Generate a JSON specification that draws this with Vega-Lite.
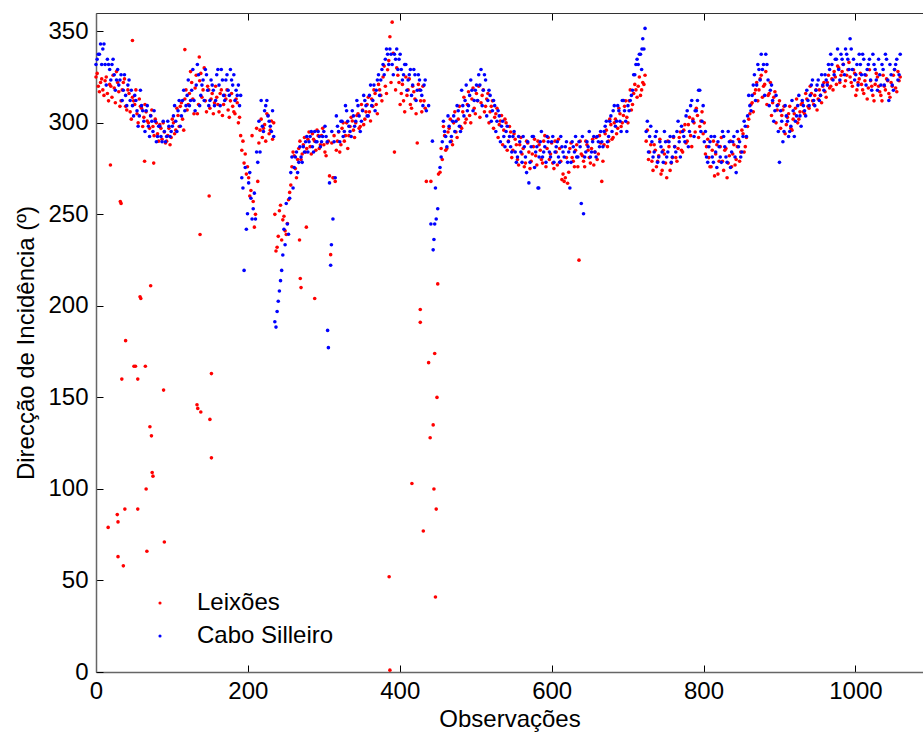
{
"$schema": "https://vega.github.io/schema/vega-lite/v6.json",
"width": 827, "height": 659,
"autosize": "none",
"padding": {"left": 96, "top": 13, "right": 0, "bottom": 61},
"background": "white",
"config": {"view": {"stroke": null}, "font": "Liberation Sans"},
"datasets": {"d": [
{"o":0,"L":325,"C":331.9},{"o":3,"L":320,"C":337.5},{"o":6,"L":322,"C":343.1},{"o":9,"L":318,"C":340.3},{"o":12,"L":323,"C":331.9},{"o":15,"L":316,"C":334.7},{"o":18,"L":321,"C":329.1},{"o":21,"L":314,"C":331.9},{"o":24,"L":319,"C":326.3},{"o":27,"L":328,"C":323.4},{"o":30,"L":317,"C":320.6},{"o":33,"L":312,"C":326.3},{"o":36,"L":322,"C":317.8},{"o":39,"L":309,"C":315},{"o":42,"L":318,"C":320.6},{"o":45,"L":306,"C":312.2},{"o":48,"L":314,"C":309.4},{"o":51,"L":310,"C":315},{"o":54,"L":305,"C":306.6},{"o":57,"L":313,"C":303.8},{"o":60,"L":308,"C":309.4},{"o":63,"L":303,"C":300.9},{"o":66,"L":306,"C":306.6},{"o":69,"L":300,"C":298.1},{"o":72,"L":304,"C":303.8},{"o":75,"L":298,"C":295.3},{"o":78,"L":302,"C":300.9},{"o":81,"L":294,"C":292.5},{"o":84,"L":299,"C":298.1},{"o":87,"L":291,"C":289.7},{"o":90,"L":295,"C":295.3},{"o":93,"L":290,"C":292.5},{"o":96,"L":297,"C":298.1},{"o":99,"L":292,"C":295.3},{"o":102,"L":300,"C":303.8},{"o":105,"L":296,"C":300.9},{"o":108,"L":304,"C":306.6},{"o":111,"L":309,"C":298.1},{"o":114,"L":302,"C":312.2},{"o":117,"L":313,"C":306.6},{"o":120,"L":307,"C":315},{"o":123,"L":316,"C":309.4},{"o":126,"L":322,"C":317.8},{"o":129,"L":305,"C":312.2},{"o":132,"L":326,"C":320.6},{"o":135,"L":310,"C":326.3},{"o":138,"L":327,"C":315},{"o":141,"L":318,"C":323.4},{"o":144,"L":312,"C":329.1},{"o":147,"L":320,"C":317.8},{"o":150,"L":308,"C":312.2},{"o":153,"L":316,"C":320.6},{"o":156,"L":311,"C":309.4},{"o":159,"L":314,"C":326.3},{"o":162,"L":306,"C":320.6},{"o":165,"L":318,"C":329.1},{"o":168,"L":310,"C":315},{"o":171,"L":313,"C":323.4},{"o":174,"L":307,"C":317.8},{"o":177,"L":312,"C":329.1},{"o":180,"L":309,"C":320.6},{"o":183,"L":305,"C":312.2},{"o":186,"L":311,"C":315},{"o":189,"L":303,"C":309.4},{"o":192,"L":285,"C":270},{"o":195,"L":278,"C":219.4},{"o":198,"L":272,"C":241.9},{"o":201,"L":270,"C":267.2},{"o":204,"L":263,"C":258.8},{"o":207,"L":257,"C":253.1},{"o":210,"L":250,"C":247.5},{"o":213,"L":268,"C":278.4},{"o":216,"L":296,"C":284.1},{"o":219,"L":292,"C":298.1},{"o":222,"L":299,"C":306.6},{"o":225,"L":305,"C":312.2},{"o":228,"L":294,"C":300.9},{"o":231,"L":301,"C":295.3},{"o":234,"L":300,"C":292.5},{"o":237,"L":230,"C":188.4},{"o":240,"L":238,"C":202.5},{"o":243,"L":255,"C":213.8},{"o":246,"L":247,"C":227.8},{"o":249,"L":241,"C":233.4},{"o":252,"L":245,"C":244.7},{"o":255,"L":262,"C":258.8},{"o":258,"L":276,"C":281.3},{"o":261,"L":282,"C":275.6},{"o":264,"L":270,"C":284.1},{"o":267,"L":286,"C":278.4},{"o":270,"L":280,"C":281.3},{"o":273,"L":288,"C":286.9},{"o":276,"L":284,"C":289.7},{"o":279,"L":291,"C":284.1},{"o":282,"L":287,"C":292.5},{"o":285,"L":294,"C":286.9},{"o":288,"L":290,"C":295.3},{"o":291,"L":296,"C":289.7},{"o":294,"L":286,"C":292.5},{"o":297,"L":293,"C":289.7},{"o":300,"L":288,"C":295.3},{"o":303,"L":282,"C":292.5},{"o":306,"L":290,"C":177.2},{"o":309,"L":228,"C":222.2},{"o":312,"L":270,"C":247.5},{"o":315,"L":268,"C":270},{"o":318,"L":290,"C":298.1},{"o":321,"L":284,"C":289.7},{"o":324,"L":297,"C":300.9},{"o":327,"L":290,"C":295.3},{"o":330,"L":300,"C":306.6},{"o":333,"L":293,"C":298.1},{"o":336,"L":303,"C":292.5},{"o":339,"L":296,"C":303.8},{"o":342,"L":300,"C":300.9},{"o":345,"L":305,"C":309.4},{"o":348,"L":298,"C":295.3},{"o":351,"L":307,"C":306.6},{"o":354,"L":302,"C":312.2},{"o":357,"L":310,"C":303.8},{"o":360,"L":306,"C":315},{"o":363,"L":313,"C":309.4},{"o":366,"L":318,"C":320.6},{"o":369,"L":310,"C":317.8},{"o":372,"L":321,"C":326.3},{"o":375,"L":315,"C":323.4},{"o":378,"L":325,"C":331.9},{"o":381,"L":320,"C":334.7},{"o":384,"L":329,"C":337.5},{"o":387,"L":347,"C":340.3},{"o":390,"L":355,"C":331.9},{"o":393,"L":284,"C":337.5},{"o":396,"L":330,"C":340.3},{"o":399,"L":322,"C":334.7},{"o":402,"L":316,"C":329.1},{"o":405,"L":312,"C":326.3},{"o":408,"L":325,"C":331.9},{"o":411,"L":318,"C":323.4},{"o":414,"L":310,"C":329.1},{"o":417,"L":320,"C":320.6},{"o":420,"L":313,"C":326.3},{"o":423,"L":289,"C":317.8},{"o":426,"L":318,"C":323.4},{"o":429,"L":306,"C":315},{"o":432,"L":312,"C":320.6},{"o":435,"L":268,"C":306.6},{"o":438,"L":169,"C":309.4},{"o":441,"L":268,"C":244.7},{"o":444,"L":135,"C":230.6},{"o":447,"L":41,"C":264.4},{"o":450,"L":212,"C":253.1},{"o":453,"L":273,"C":275.6},{"o":456,"L":280,"C":289.7},{"o":459,"L":293,"C":295.3},{"o":462,"L":286,"C":286.9},{"o":465,"L":297,"C":298.1},{"o":468,"L":290,"C":292.5},{"o":471,"L":300,"C":303.8},{"o":474,"L":295,"C":300.9},{"o":477,"L":302,"C":306.6},{"o":480,"L":298,"C":295.3},{"o":483,"L":306,"C":309.4},{"o":486,"L":300,"C":312.2},{"o":489,"L":310,"C":306.6},{"o":492,"L":304,"C":315},{"o":495,"L":313,"C":317.8},{"o":498,"L":308,"C":312.2},{"o":501,"L":316,"C":320.6},{"o":504,"L":320,"C":326.3},{"o":507,"L":311,"C":329.1},{"o":510,"L":318,"C":317.8},{"o":513,"L":309,"C":323.4},{"o":516,"L":316,"C":312.2},{"o":519,"L":306,"C":315},{"o":522,"L":312,"C":306.6},{"o":525,"L":303,"C":309.4},{"o":528,"L":308,"C":300.9},{"o":531,"L":299,"C":303.8},{"o":534,"L":304,"C":298.1},{"o":537,"L":296,"C":292.5},{"o":540,"L":300,"C":295.3},{"o":543,"L":290,"C":289.7},{"o":546,"L":295,"C":286.9},{"o":549,"L":285,"C":292.5},{"o":552,"L":291,"C":284.1},{"o":555,"L":280,"C":281.3},{"o":558,"L":288,"C":289.7},{"o":561,"L":283,"C":278.4},{"o":564,"L":276,"C":286.9},{"o":567,"L":290,"C":272.8},{"o":570,"L":284,"C":267.2},{"o":573,"L":279,"C":286.9},{"o":576,"L":287,"C":292.5},{"o":579,"L":282,"C":284.1},{"o":582,"L":290,"C":264.4},{"o":585,"L":285,"C":289.7},{"o":588,"L":278,"C":281.3},{"o":591,"L":293,"C":286.9},{"o":594,"L":286,"C":292.5},{"o":597,"L":280,"C":284.1},{"o":600,"L":289,"C":289.7},{"o":603,"L":275,"C":278.4},{"o":606,"L":284,"C":286.9},{"o":609,"L":291,"C":281.3},{"o":612,"L":279,"C":292.5},{"o":615,"L":272,"C":284.1},{"o":618,"L":270,"C":286.9},{"o":621,"L":267,"C":278.4},{"o":624,"L":286,"C":264.4},{"o":627,"L":281,"C":289.7},{"o":630,"L":276,"C":284.1},{"o":633,"L":288,"C":281.3},{"o":636,"L":225,"C":289.7},{"o":639,"L":283,"C":255.9},{"o":642,"L":279,"C":250.3},{"o":645,"L":290,"C":284.1},{"o":648,"L":285,"C":286.9},{"o":651,"L":278,"C":281.3},{"o":654,"L":291,"C":289.7},{"o":657,"L":284,"C":284.1},{"o":660,"L":280,"C":292.5},{"o":663,"L":293,"C":286.9},{"o":666,"L":268,"C":289.7},{"o":669,"L":288,"C":295.3},{"o":672,"L":296,"C":300.9},{"o":675,"L":290,"C":292.5},{"o":678,"L":299,"C":303.8},{"o":681,"L":292,"C":306.6},{"o":684,"L":302,"C":298.1},{"o":687,"L":297,"C":309.4},{"o":690,"L":305,"C":300.9},{"o":693,"L":300,"C":312.2},{"o":696,"L":309,"C":306.6},{"o":699,"L":303,"C":295.3},{"o":702,"L":312,"C":306.6},{"o":705,"L":307,"C":315},{"o":708,"L":316,"C":326.3},{"o":711,"L":318,"C":331.9},{"o":714,"L":320,"C":331.9},{"o":717,"L":315,"C":337.5},{"o":720,"L":322,"C":345.9},{"o":723,"L":326,"C":351.6},{"o":726,"L":296,"C":300.9},{"o":729,"L":284,"C":292.5},{"o":732,"L":279,"C":289.7},{"o":735,"L":288,"C":284.1},{"o":738,"L":276,"C":295.3},{"o":741,"L":282,"C":281.3},{"o":744,"L":272,"C":286.9},{"o":747,"L":285,"C":278.4},{"o":750,"L":278,"C":289.7},{"o":753,"L":290,"C":284.1},{"o":756,"L":274,"C":292.5},{"o":759,"L":281,"C":281.3},{"o":762,"L":287,"C":286.9},{"o":765,"L":279,"C":295.3},{"o":768,"L":292,"C":289.7},{"o":771,"L":285,"C":298.1},{"o":774,"L":296,"C":292.5},{"o":777,"L":289,"C":303.8},{"o":780,"L":299,"C":286.9},{"o":783,"L":293,"C":309.4},{"o":786,"L":302,"C":300.9},{"o":789,"L":295,"C":306.6},{"o":792,"L":304,"C":312.2},{"o":795,"L":298,"C":317.8},{"o":798,"L":306,"C":300.9},{"o":801,"L":300,"C":289.7},{"o":804,"L":287,"C":281.3},{"o":807,"L":281,"C":286.9},{"o":810,"L":276,"C":292.5},{"o":813,"L":290,"C":278.4},{"o":816,"L":283,"C":284.1},{"o":819,"L":272,"C":289.7},{"o":822,"L":287,"C":281.3},{"o":825,"L":279,"C":295.3},{"o":828,"L":285,"C":286.9},{"o":831,"L":270,"C":278.4},{"o":834,"L":282,"C":289.7},{"o":837,"L":276,"C":284.1},{"o":840,"L":288,"C":292.5},{"o":843,"L":280,"C":272.8},{"o":846,"L":291,"C":286.9},{"o":849,"L":284,"C":281.3},{"o":852,"L":294,"C":292.5},{"o":855,"L":287,"C":298.1},{"o":858,"L":298,"C":303.8},{"o":861,"L":305,"C":309.4},{"o":864,"L":311,"C":315},{"o":867,"L":316,"C":326.3},{"o":870,"L":322,"C":320.6},{"o":873,"L":318,"C":329.1},{"o":876,"L":326,"C":337.5},{"o":879,"L":320,"C":331.9},{"o":882,"L":328,"C":337.5},{"o":885,"L":315,"C":323.4},{"o":888,"L":322,"C":317.8},{"o":891,"L":311,"C":312.2},{"o":894,"L":317,"C":306.6},{"o":897,"L":307,"C":309.4},{"o":900,"L":312,"C":278.4},{"o":903,"L":304,"C":300.9},{"o":906,"L":309,"C":295.3},{"o":909,"L":299,"C":303.8},{"o":912,"L":305,"C":292.5},{"o":915,"L":297,"C":298.1},{"o":918,"L":302,"C":306.6},{"o":921,"L":308,"C":300.9},{"o":924,"L":300,"C":309.4},{"o":927,"L":306,"C":303.8},{"o":930,"L":311,"C":312.2},{"o":933,"L":305,"C":306.6},{"o":936,"L":313,"C":317.8},{"o":939,"L":308,"C":309.4},{"o":942,"L":316,"C":320.6},{"o":945,"L":310,"C":312.2},{"o":948,"L":318,"C":317.8},{"o":951,"L":313,"C":323.4},{"o":954,"L":315,"C":315},{"o":957,"L":320,"C":320.6},{"o":960,"L":317,"C":326.3},{"o":963,"L":322,"C":320.6},{"o":966,"L":319,"C":329.1},{"o":969,"L":324,"C":331.9},{"o":972,"L":328,"C":326.3},{"o":975,"L":321,"C":334.7},{"o":978,"L":330,"C":329.1},{"o":981,"L":326,"C":337.5},{"o":984,"L":332,"C":331.9},{"o":987,"L":323,"C":340.3},{"o":990,"L":329,"C":334.7},{"o":993,"L":325,"C":345.9},{"o":996,"L":320,"C":329.1},{"o":999,"L":327,"C":323.4},{"o":1002,"L":318,"C":331.9},{"o":1005,"L":324,"C":337.5},{"o":1008,"L":321,"C":326.3},{"o":1011,"L":316,"C":334.7},{"o":1014,"L":326,"C":320.6},{"o":1017,"L":319,"C":331.9},{"o":1020,"L":323,"C":323.4},{"o":1023,"L":315,"C":337.5},{"o":1026,"L":321,"C":329.1},{"o":1029,"L":325,"C":317.8},{"o":1032,"L":317,"C":326.3},{"o":1035,"L":312,"C":331.9},{"o":1038,"L":320,"C":320.6},{"o":1041,"L":324,"C":334.7},{"o":1044,"L":316,"C":312.2},{"o":1047,"L":322,"C":326.3},{"o":1050,"L":326,"C":317.8},{"o":1053,"L":319,"C":331.9},{"o":1056,"L":328,"C":323.4},{"o":1059,"L":325,"C":337.5},
{"o":1.5,"L":327,"C":334.7},{"o":4.5,"L":317,"C":337.5},{"o":7.5,"L":324,"C":331.9},{"o":10.5,"L":315,"C":343.1},{"o":13.5,"L":325,"C":320.6},{"o":16.5,"L":312,"C":331.9},{"o":19.5,"L":320,"C":323.4},{"o":22.5,"L":326,"C":334.7},{"o":25.5,"L":311,"C":317.8},{"o":28.5,"L":322,"C":329.1},{"o":31.5,"L":309,"C":323.4},{"o":34.5,"L":318,"C":312.2},{"o":37.5,"L":324,"C":326.3},{"o":40.5,"L":307,"C":309.4},{"o":43.5,"L":316,"C":323.4},{"o":46.5,"L":302,"C":317.8},{"o":49.5,"L":312,"C":303.8},{"o":52.5,"L":318,"C":312.2},{"o":55.5,"L":300,"C":298.1},{"o":58.5,"L":309,"C":317.8},{"o":61.5,"L":298,"C":306.6},{"o":64.5,"L":310,"C":295.3},{"o":67.5,"L":301,"C":309.4},{"o":70.5,"L":297,"C":292.5},{"o":73.5,"L":307,"C":300.9},{"o":76.5,"L":293,"C":306.6},{"o":79.5,"L":300,"C":289.7},{"o":82.5,"L":290,"C":298.1},{"o":85.5,"L":297,"C":292.5},{"o":88.5,"L":300,"C":300.9},{"o":91.5,"L":289,"C":289.7},{"o":94.5,"L":293,"C":300.9},{"o":97.5,"L":288,"C":292.5},{"o":100.5,"L":302,"C":298.1},{"o":103.5,"L":294,"C":309.4},{"o":106.5,"L":308,"C":295.3},{"o":109.5,"L":298,"C":312.2},{"o":112.5,"L":311,"C":303.8},{"o":115.5,"L":296,"C":317.8},{"o":118.5,"L":318,"C":309.4},{"o":121.5,"L":310,"C":323.4},{"o":124.5,"L":328,"C":312.2},{"o":127.5,"L":313,"C":329.1},{"o":130.5,"L":319,"C":306.6},{"o":133.5,"L":305,"C":331.9},{"o":136.5,"L":323,"C":309.4},{"o":139.5,"L":314,"C":320.6},{"o":142.5,"L":330,"C":312.2},{"o":145.5,"L":306,"C":326.3},{"o":148.5,"L":318,"C":309.4},{"o":151.5,"L":313,"C":323.4},{"o":154.5,"L":305,"C":317.8},{"o":157.5,"L":320,"C":312.2},{"o":160.5,"L":310,"C":329.1},{"o":163.5,"L":316,"C":309.4},{"o":166.5,"L":304,"C":323.4},{"o":169.5,"L":315,"C":312.2},{"o":172.5,"L":318,"C":326.3},{"o":175.5,"L":303,"C":315},{"o":178.5,"L":316,"C":323.4},{"o":181.5,"L":306,"C":326.3},{"o":184.5,"L":313,"C":317.8},{"o":187.5,"L":300,"C":320.6},{"o":190.5,"L":293,"C":315},{"o":193.5,"L":290,"C":264.4},{"o":196.5,"L":283,"C":275.6},{"o":199.5,"L":276,"C":250.3},{"o":202.5,"L":260,"C":272.8},{"o":205.5,"L":293,"C":247.5},{"o":208.5,"L":243,"C":261.6},{"o":211.5,"L":297,"C":284.1},{"o":214.5,"L":289,"C":300.9},{"o":217.5,"L":302,"C":312.2},{"o":220.5,"L":297,"C":295.3},{"o":223.5,"L":290,"C":309.4},{"o":226.5,"L":304,"C":303.8},{"o":229.5,"L":296,"C":298.1},{"o":232.5,"L":291,"C":306.6},{"o":235.5,"L":250,"C":191.3},{"o":238.5,"L":232,"C":196.9},{"o":241.5,"L":252,"C":208.1},{"o":244.5,"L":236,"C":219.4},{"o":247.5,"L":249,"C":241.9},{"o":250.5,"L":239,"C":255.9},{"o":253.5,"L":258,"C":239.1},{"o":256.5,"L":266,"C":272.8},{"o":259.5,"L":284,"C":264.4},{"o":262.5,"L":275,"C":281.3},{"o":265.5,"L":280,"C":272.8},{"o":268.5,"L":290,"C":286.9},{"o":271.5,"L":283,"C":278.4},{"o":274.5,"L":292,"C":284.1},{"o":277.5,"L":286,"C":292.5},{"o":280.5,"L":295,"C":289.7},{"o":283.5,"L":283,"C":295.3},{"o":286.5,"L":291,"C":284.1},{"o":289.5,"L":285,"C":289.7},{"o":292.5,"L":293,"C":295.3},{"o":295.5,"L":288,"C":286.9},{"o":298.5,"L":297,"C":292.5},{"o":301.5,"L":284,"C":298.1},{"o":304.5,"L":289,"C":289.7},{"o":307.5,"L":271,"C":267.2},{"o":310.5,"L":289,"C":295.3},{"o":313.5,"L":293,"C":289.7},{"o":316.5,"L":285,"C":303.8},{"o":319.5,"L":295,"C":295.3},{"o":322.5,"L":288,"C":300.9},{"o":325.5,"L":300,"C":292.5},{"o":328.5,"L":293,"C":309.4},{"o":331.5,"L":286,"C":300.9},{"o":334.5,"L":298,"C":295.3},{"o":337.5,"L":301,"C":306.6},{"o":340.5,"L":292,"C":298.1},{"o":343.5,"L":304,"C":312.2},{"o":346.5,"L":297,"C":303.8},{"o":349.5,"L":310,"C":300.9},{"o":352.5,"L":299,"C":315},{"o":355.5,"L":306,"C":309.4},{"o":358.5,"L":314,"C":303.8},{"o":361.5,"L":301,"C":320.6},{"o":364.5,"L":309,"C":312.2},{"o":367.5,"L":316,"C":306.6},{"o":370.5,"L":305,"C":323.4},{"o":373.5,"L":318,"C":315},{"o":376.5,"L":312,"C":329.1},{"o":379.5,"L":331,"C":326.3},{"o":382.5,"L":316,"C":340.3},{"o":385.5,"L":334,"C":331.9},{"o":388.5,"L":322,"C":337.5},{"o":391.5,"L":338,"C":326.3},{"o":394.5,"L":318,"C":334.7},{"o":397.5,"L":326,"C":329.1},{"o":400.5,"L":310,"C":337.5},{"o":403.5,"L":321,"C":323.4},{"o":406.5,"L":306,"C":331.9},{"o":409.5,"L":315,"C":317.8},{"o":412.5,"L":324,"C":326.3},{"o":415.5,"L":308,"C":315},{"o":418.5,"L":317,"C":329.1},{"o":421.5,"L":305,"C":312.2},{"o":424.5,"L":321,"C":326.3},{"o":427.5,"L":312,"C":317.8},{"o":430.5,"L":320,"C":309.4},{"o":433.5,"L":308,"C":323.4},{"o":454.5,"L":286,"C":281.3},{"o":457.5,"L":298,"C":300.9},{"o":460.5,"L":285,"C":292.5},{"o":463.5,"L":295,"C":303.8},{"o":466.5,"L":302,"C":289.7},{"o":469.5,"L":288,"C":300.9},{"o":472.5,"L":306,"C":295.3},{"o":475.5,"L":292,"C":309.4},{"o":478.5,"L":309,"C":298.1},{"o":481.5,"L":297,"C":317.8},{"o":484.5,"L":314,"C":303.8},{"o":487.5,"L":302,"C":320.6},{"o":490.5,"L":317,"C":309.4},{"o":493.5,"L":300,"C":323.4},{"o":496.5,"L":319,"C":306.6},{"o":499.5,"L":305,"C":317.8},{"o":502.5,"L":312,"C":312.2},{"o":505.5,"L":303,"C":320.6},{"o":508.5,"L":315,"C":309.4},{"o":511.5,"L":306,"C":326.3},{"o":514.5,"L":313,"C":303.8},{"o":517.5,"L":300,"C":317.8},{"o":520.5,"L":309,"C":300.9},{"o":523.5,"L":297,"C":312.2},{"o":526.5,"L":305,"C":295.3},{"o":529.5,"L":292,"C":306.6},{"o":532.5,"L":301,"C":289.7},{"o":535.5,"L":288,"C":300.9},{"o":538.5,"L":302,"C":286.9},{"o":541.5,"L":285,"C":298.1},{"o":544.5,"L":298,"C":292.5},{"o":547.5,"L":281,"C":284.1},{"o":550.5,"L":294,"C":295.3},{"o":553.5,"L":288,"C":278.4},{"o":556.5,"L":277,"C":292.5},{"o":559.5,"L":292,"C":284.1},{"o":562.5,"L":286,"C":292.5},{"o":565.5,"L":278,"C":281.3},{"o":568.5,"L":289,"C":289.7},{"o":571.5,"L":275,"C":278.4},{"o":574.5,"L":283,"C":292.5},{"o":577.5,"L":291,"C":275.6},{"o":580.5,"L":277,"C":286.9},{"o":583.5,"L":288,"C":281.3},{"o":586.5,"L":280,"C":295.3},{"o":589.5,"L":290,"C":284.1},{"o":592.5,"L":276,"C":278.4},{"o":595.5,"L":292,"C":289.7},{"o":598.5,"L":283,"C":281.3},{"o":601.5,"L":278,"C":292.5},{"o":604.5,"L":290,"C":284.1},{"o":607.5,"L":277,"C":289.7},{"o":610.5,"L":286,"C":278.4},{"o":613.5,"L":269,"C":286.9},{"o":616.5,"L":268,"C":281.3},{"o":619.5,"L":281,"C":289.7},{"o":622.5,"L":273,"C":284.1},{"o":625.5,"L":289,"C":278.4},{"o":628.5,"L":279,"C":286.9},{"o":631.5,"L":285,"C":292.5},{"o":634.5,"L":276,"C":281.3},{"o":637.5,"L":290,"C":286.9},{"o":640.5,"L":282,"C":292.5},{"o":643.5,"L":276,"C":281.3},{"o":646.5,"L":288,"C":289.7},{"o":649.5,"L":281,"C":295.3},{"o":652.5,"L":286,"C":284.1},{"o":655.5,"L":277,"C":292.5},{"o":658.5,"L":292,"C":281.3},{"o":661.5,"L":283,"C":289.7},{"o":664.5,"L":289,"C":295.3},{"o":667.5,"L":279,"C":286.9},{"o":670.5,"L":294,"C":298.1},{"o":673.5,"L":287,"C":289.7},{"o":676.5,"L":302,"C":300.9},{"o":679.5,"L":291,"C":295.3},{"o":682.5,"L":300,"C":309.4},{"o":685.5,"L":294,"C":300.9},{"o":688.5,"L":308,"C":306.6},{"o":691.5,"L":298,"C":295.3},{"o":694.5,"L":304,"C":312.2},{"o":697.5,"L":312,"C":300.9},{"o":700.5,"L":300,"C":309.4},{"o":703.5,"L":318,"C":312.2},{"o":706.5,"L":310,"C":317.8},{"o":709.5,"L":321,"C":326.3},{"o":712.5,"L":314,"C":334.7},{"o":715.5,"L":325,"C":337.5},{"o":718.5,"L":318,"C":329.1},{"o":721.5,"L":321,"C":340.3},{"o":724.5,"L":290,"C":295.3},{"o":727.5,"L":280,"C":284.1},{"o":730.5,"L":288,"C":298.1},{"o":733.5,"L":274,"C":281.3},{"o":736.5,"L":285,"C":292.5},{"o":739.5,"L":279,"C":278.4},{"o":742.5,"L":291,"C":289.7},{"o":745.5,"L":274,"C":284.1},{"o":748.5,"L":283,"C":295.3},{"o":751.5,"L":270,"C":281.3},{"o":754.5,"L":287,"C":289.7},{"o":757.5,"L":278,"C":278.4},{"o":760.5,"L":292,"C":292.5},{"o":763.5,"L":281,"C":284.1},{"o":766.5,"L":286,"C":300.9},{"o":769.5,"L":295,"C":281.3},{"o":772.5,"L":284,"C":295.3},{"o":775.5,"L":299,"C":289.7},{"o":778.5,"L":290,"C":306.6},{"o":781.5,"L":303,"C":295.3},{"o":784.5,"L":287,"C":312.2},{"o":787.5,"L":300,"C":292.5},{"o":790.5,"L":308,"C":306.6},{"o":793.5,"L":292,"C":317.8},{"o":796.5,"L":301,"C":295.3},{"o":799.5,"L":294,"C":309.4},{"o":802.5,"L":283,"C":295.3},{"o":805.5,"L":291,"C":278.4},{"o":808.5,"L":276,"C":289.7},{"o":811.5,"L":285,"C":281.3},{"o":814.5,"L":271,"C":292.5},{"o":817.5,"L":288,"C":275.6},{"o":820.5,"L":279,"C":286.9},{"o":823.5,"L":292,"C":278.4},{"o":826.5,"L":274,"C":292.5},{"o":829.5,"L":286,"C":281.3},{"o":832.5,"L":278,"C":295.3},{"o":835.5,"L":290,"C":275.6},{"o":838.5,"L":283,"C":289.7},{"o":841.5,"L":277,"C":281.3},{"o":844.5,"L":287,"C":295.3},{"o":847.5,"L":279,"C":289.7},{"o":850.5,"L":296,"C":284.1},{"o":853.5,"L":284,"C":300.9},{"o":856.5,"L":292,"C":292.5},{"o":859.5,"L":302,"C":315},{"o":862.5,"L":310,"C":306.6},{"o":865.5,"L":306,"C":320.6},{"o":868.5,"L":318,"C":312.2},{"o":871.5,"L":312,"C":331.9},{"o":874.5,"L":324,"C":323.4},{"o":877.5,"L":314,"C":329.1},{"o":880.5,"L":321,"C":315},{"o":883.5,"L":310,"C":331.9},{"o":886.5,"L":316,"C":309.4},{"o":889.5,"L":304,"C":320.6},{"o":892.5,"L":314,"C":300.9},{"o":895.5,"L":300,"C":315},{"o":898.5,"L":310,"C":295.3},{"o":901.5,"L":297,"C":306.6},{"o":904.5,"L":307,"C":289.7},{"o":907.5,"L":294,"C":309.4},{"o":910.5,"L":303,"C":300.9},{"o":913.5,"L":309,"C":295.3},{"o":916.5,"L":296,"C":312.2},{"o":919.5,"L":305,"C":292.5},{"o":922.5,"L":313,"C":303.8},{"o":925.5,"L":302,"C":315},{"o":928.5,"L":310,"C":298.1},{"o":931.5,"L":306,"C":309.4},{"o":934.5,"L":316,"C":303.8},{"o":937.5,"L":309,"C":312.2},{"o":940.5,"L":320,"C":315},{"o":943.5,"L":312,"C":323.4},{"o":946.5,"L":315,"C":309.4},{"o":949.5,"L":307,"C":320.6},{"o":952.5,"L":318,"C":312.2},{"o":955.5,"L":311,"C":326.3},{"o":958.5,"L":322,"C":317.8},{"o":961.5,"L":314,"C":323.4},{"o":964.5,"L":326,"C":331.9},{"o":967.5,"L":320,"C":337.5},{"o":970.5,"L":318,"C":323.4},{"o":973.5,"L":325,"C":334.7},{"o":976.5,"L":331,"C":340.3},{"o":979.5,"L":322,"C":323.4},{"o":982.5,"L":328,"C":334.7},{"o":985.5,"L":320,"C":326.3},{"o":988.5,"L":326,"C":337.5},{"o":991.5,"L":333,"C":329.1},{"o":994.5,"L":322,"C":340.3},{"o":997.5,"L":329,"C":334.7},{"o":1000.5,"L":315,"C":326.3},{"o":1003.5,"L":322,"C":320.6},{"o":1006.5,"L":327,"C":331.9},{"o":1009.5,"L":318,"C":337.5},{"o":1012.5,"L":323,"C":326.3},{"o":1015.5,"L":313,"C":329.1},{"o":1018.5,"L":329,"C":334.7},{"o":1021.5,"L":320,"C":317.8},{"o":1024.5,"L":312,"C":331.9},{"o":1027.5,"L":327,"C":323.4},{"o":1030.5,"L":320,"C":334.7},{"o":1033.5,"L":315,"C":320.6},{"o":1036.5,"L":326,"C":329.1},{"o":1039.5,"L":318,"C":337.5},{"o":1042.5,"L":323,"C":323.4},{"o":1045.5,"L":314,"C":331.9},{"o":1048.5,"L":320,"C":320.6},{"o":1051.5,"L":329,"C":329.1},{"o":1054.5,"L":317,"C":334.7},{"o":1057.5,"L":323,"C":326.3},
{"o":39,"L":181},{"o":50,"L":167},{"o":52,"L":167},{"o":65,"L":167},{"o":34,"L":160},{"o":55,"L":160},{"o":89,"L":154},{"o":133,"L":146},{"o":134,"L":144},{"o":138,"L":142},{"o":150,"L":138},{"o":152,"L":163},{"o":152,"L":117},{"o":71,"L":134},{"o":73,"L":129},{"o":74,"L":109},{"o":75,"L":107},{"o":66,"L":100},{"o":16,"L":79},{"o":28,"L":86},{"o":29,"L":82},{"o":38,"L":89},{"o":55,"L":89},{"o":90,"L":71},{"o":67,"L":66},{"o":29,"L":63},{"o":36,"L":58},{"o":48,"L":345},{"o":19,"L":277},{"o":32,"L":257},{"o":33,"L":256},{"o":72,"L":211},{"o":58,"L":205},{"o":59,"L":204},{"o":149,"L":260},{"o":137,"L":239},{"o":117,"L":340},{"o":136,"L":336},{"o":64,"L":279},{"o":76,"L":278},
{"o":269,"L":215},{"o":270,"L":210},{"o":288,"L":204},{"o":277,"L":243},{"o":268,"L":236},{"o":313,"L":270},{"o":386,"L":52},{"o":387,"L":1},{"o":416,"L":103},{"o":427,"L":198},{"o":427,"L":191},{"o":431,"L":77},{"o":440,"L":128},{"o":445,"L":100},{"o":448,"L":89},{"o":449,"L":150},{"o":446,"L":174},{"o":451,"L":272},
{"o":305,"C":186.6},{"o":310,"C":233.4},{"o":443,"C":290},{"o":445,"C":236.3},{"o":448,"C":247.5},{"o":446,"C":244.7},{"o":583,"C":264.4},{"o":719,"C":340.3}
]},
"data": {"name": "d"},
"layer": [
 {"mark": {"type": "point", "filled": true, "size": 13, "opacity": 1},
  "encoding": {
   "x": {"field": "o", "type": "quantitative", "scale": {"domain": [0, 1089], "nice": false, "zero": false},
     "axis": {"values": [0,200,400,600,800,1000], "format": "d", "grid": false, "labelFontSize": 24, "labelColor": "black", "labelFlush": false, "labelOverlap": false, "tickSize": -7, "tickWidth": 1, "tickColor": "black", "domainColor": "#666", "domainWidth": 1.5, "labelPadding": 14, "title": "Observações", "titleFontSize": 24, "titleFontWeight": "normal", "titleColor": "black", "titlePadding": 4}},
   "y": {"field": "L", "type": "quantitative", "scale": {"domain": [0, 360], "nice": false},
     "axis": {"values": [0,50,100,150,200,250,300,350], "grid": false, "labelFontSize": 24, "labelColor": "black", "labelFlush": false, "labelOverlap": false, "tickSize": -7, "tickWidth": 1, "tickColor": "black", "domainColor": "#666", "domainWidth": 1.5, "labelPadding": 15, "title": "Direcção de Incidência (º)", "titleFontSize": 24, "titleFontWeight": "normal", "titleColor": "black", "titlePadding": 9}},
   "color": {"datum": "Leixões", "type": "nominal", "scale": {"domain": ["Leixões", "Cabo Silleiro"], "range": ["#ff0000", "#0000ff"]},
     "legend": {"orient": "none", "legendX": 52, "legendY": 578, "title": null, "symbolType": "circle", "symbolSize": 10, "labelFontSize": 24, "labelColor": "black", "labelOffset": 25, "rowPadding": 9, "padding": 0, "symbolStrokeWidth": 0}}
  }},
 {"mark": {"type": "point", "filled": true, "size": 13, "opacity": 1},
  "encoding": {
   "x": {"field": "o", "type": "quantitative", "axis": {"orient": "top", "values": [0,200,400,600,800,1000], "labels": false, "grid": false, "tickSize": -7, "tickWidth": 1, "tickColor": "black", "domainColor": "#333", "title": null}},
   "y": {"field": "C", "type": "quantitative", "axis": null},
   "color": {"datum": "Cabo Silleiro", "type": "nominal"}
  }}
],
"resolve": {"axis": {"x": "independent", "y": "independent"}}
}
